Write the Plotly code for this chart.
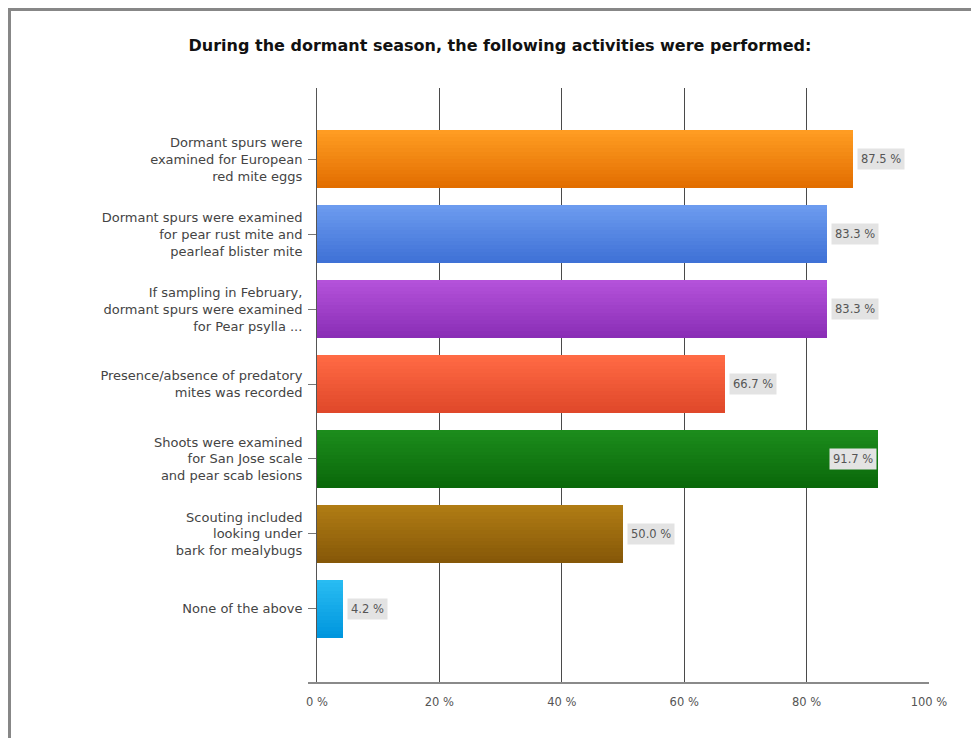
import plotly.graph_objects as go

# ---- data ----
categories = [
    "Dormant spurs were<br>examined for European<br>red mite eggs",
    "Dormant spurs were examined<br>for pear rust mite and<br>pearleaf blister mite",
    "If sampling in February,<br>dormant spurs were examined<br>for Pear psylla ...",
    "Presence/absence of predatory<br>mites was recorded",
    "Shoots were examined<br>for San Jose scale<br>and pear scab lesions",
    "Scouting included<br>looking under<br>bark for mealybugs",
    "None of the above",
]
values = [87.5, 83.3, 83.3, 66.7, 91.7, 50.0, 4.2]
value_labels = ["87.5 %", "83.3 %", "83.3 %", "66.7 %", "91.7 %", "50.0 %", "4.2 %"]
x_ticks = [0, 20, 40, 60, 80, 100]
x_tick_labels = ["0 %", "20 %", "40 %", "60 %", "80 %", "100 %"]
title_text = "During the dormant season, the following activities were performed:"

# gradient colours (top, bottom) per bar
top_colors = ["#FF9C22", "#6C9BEF", "#B452DA", "#FF6A44", "#1C8C1C", "#B07C14", "#28BCF2"]
bot_colors = ["#E26E00", "#3F71D6", "#8A2EB6", "#E0482A", "#0A680A", "#865808", "#0096DE"]

FONT = "DejaVu Sans, Verdana, Arial"

# ---- layout geometry (page pixels; the page body adds an 8px offset) ----
OFF = 8
W, H = 979, 738
PLOT_L, PLOT_R, PLOT_T, PLOT_B = 317, 929, 88, 683
ML, MT = PLOT_L - OFF, PLOT_T - OFF
MR, MB = W - (PLOT_R - OFF), H - (PLOT_B - OFF)
PW, PH = PLOT_R - PLOT_L, PLOT_B - PLOT_T


def hex2rgb(h):
    h = h.lstrip("#")
    return tuple(int(h[i:i + 2], 16) for i in (0, 2, 4))


def mix(c1, c2, t):
    a, b = hex2rgb(c1), hex2rgb(c2)
    return "rgb(%d,%d,%d)" % tuple(round(a[k] + (b[k] - a[k]) * t) for k in range(3))


fig = go.Figure()

bar_w = 0.78
N = 16
for i in range(N):
    t = i / (N - 1)
    fig.add_trace(go.Bar(
        y=categories, x=values, orientation="h",
        width=bar_w / N * 1.02, offset=-bar_w / 2 + i * bar_w / N,
        marker=dict(color=[mix(tc, bc, t) for tc, bc in zip(top_colors, bot_colors)],
                    line=dict(width=0)),
        hoverinfo="skip", showlegend=False,
    ))

# value labels
annotations = []
for cat, v, lab in zip(categories, values, value_labels):
    inside = v > 90
    annotations.append(dict(
        x=v, y=cat, xref="x", yref="y", text=lab, showarrow=False,
        xanchor="right" if inside else "left", xshift=-1 if inside else 4,
        font=dict(family=FONT, size=11.5, color="#555555"),
        bgcolor="#E3E3E3", borderpad=3,
    ))


# frame (top and left only) and x-axis line, in paper coordinates from page pixels
def px2x(px):
    return (px - PLOT_L) / PW


def py2y(py):
    return (PLOT_B - py) / PH


shapes = [
    dict(type="line", xref="paper", yref="paper", x0=px2x(9), x1=px2x(W + 20),
         y0=py2y(9.5), y1=py2y(9.5), line=dict(color="#878787", width=3)),
    dict(type="line", xref="paper", yref="paper", x0=px2x(9.5), x1=px2x(9.5),
         y0=py2y(8), y1=py2y(H + 20), line=dict(color="#878787", width=3)),
    dict(type="line", xref="paper", yref="paper", x0=px2x(308), x1=1,
         y0=0, y1=0, line=dict(color="#8A8A8A", width=2)),
]

fig.update_layout(
    width=W, height=H,
    margin=dict(l=ML, r=MR, t=MT, b=MB),
    paper_bgcolor="white", plot_bgcolor="white",
    barmode="overlay", bargap=0,
    title=dict(text="<b>" + title_text + "</b>", x=(500 - OFF) / W, xanchor="center",
               xref="container", y=1 - (45 - OFF) / H, yanchor="middle", yref="container",
               font=dict(family=FONT, size=16, color="#111111")),
    xaxis=dict(range=[0, 100], tickvals=x_ticks, ticktext=x_tick_labels,
               showgrid=True, gridcolor="#4A4A4A", gridwidth=1,
               zeroline=False, showline=False, ticks="", ticklabelstandoff=10,
               tickfont=dict(family=FONT, size=11.5, color="#555555"),
               fixedrange=True),
    yaxis=dict(categoryorder="array", categoryarray=categories,
               range=[6.99, -0.95], showgrid=False, zeroline=False,
               showline=True, linecolor="#555555", linewidth=1,
               ticks="outside", ticklen=8, tickcolor="#777777", ticklabelstandoff=3,
               tickfont=dict(family=FONT, size=13, color="#444444"),
               fixedrange=True),
    annotations=annotations, shapes=shapes,
)

fig.write_html("out.html")
